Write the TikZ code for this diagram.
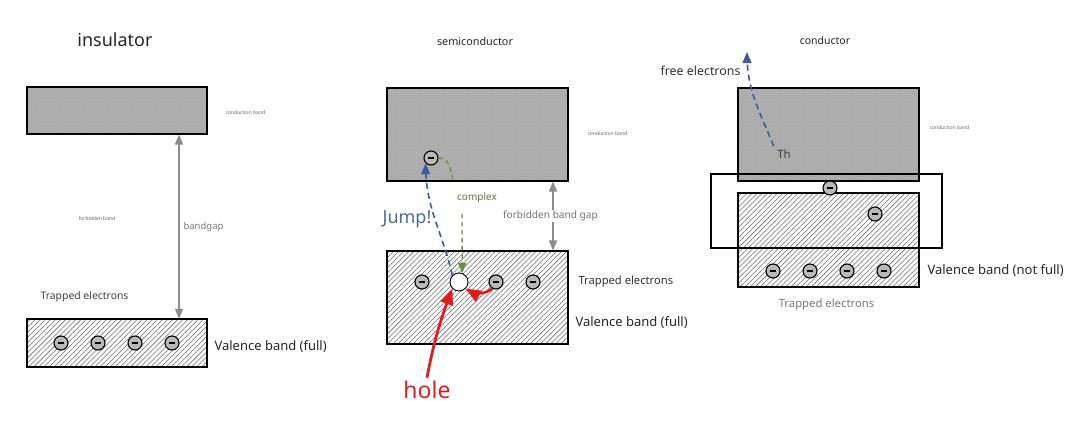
\documentclass[tikz,border=0pt]{standalone}
\usepackage{fontspec}
\setmainfont{Noto Sans}
\usetikzlibrary{arrows,patterns,patterns.meta}

\definecolor{bandgray}{RGB}{176,176,176}
\definecolor{jumpblue}{RGB}{62,92,152}
\definecolor{jumptext}{RGB}{84,104,150}
\definecolor{cplxgreen}{RGB}{106,146,72}
\definecolor{holered}{RGB}{226,28,26}
\newcommand{\fsz}[1]{\fontsize{#1}{#1}\selectfont}

\begin{document}
\begin{tikzpicture}[x=1pt,y=1pt,
    cband/.style={draw,line width=1.2pt,preaction={fill=bandgray},pattern=crosshatch dots,pattern color=gray!75,inner sep=0pt},
    vband/.style={draw,line width=1.2pt,preaction={fill=white},pattern={Lines[angle=45,distance=3.6pt,line width=0.55pt]},pattern color=gray!85!black,inner sep=0pt},
    elec/.style={circle,draw,line width=1.1pt,fill=gray!55,minimum size=14pt,inner sep=0pt,
        path picture={\draw[line width=1.8pt] ([xshift=-3.3pt]path picture bounding box.center) -- ([xshift=3.3pt]path picture bounding box.center);}},
    gaparrow/.style={<->,>=triangle 45,gray!90,line width=1.3pt},
    bluedash/.style={->,>=triangle 45,jumpblue,dash pattern=on 6pt off 4pt,line width=1.6pt},
    greendash/.style={cplxgreen,dash pattern=on 4.5pt off 3.5pt,line width=1.3pt},
    tiny/.style={font=\fsz{5},text=gray!80!black},
  ]
    \useasboundingbox (0,0) rectangle (1080,421);

    % insulator
    \node[font=\fsz{18},text=black!85] (tins) at (115,381) {insulator};
    \node[cband,minimum width=180pt,minimum height=47pt] (icb) at (117,310.5) {};
    \node[vband,minimum width=180pt,minimum height=48pt] (ivb) at (117,78) {};
    \coordinate (igap) at (179,200);
    \draw[gaparrow] (icb.south -| igap) -- (ivb.north -| igap);
    \node[anchor=west,font=\fsz{9.5},text=gray!95!black] (ibg) at (180,194) {bandgap};
    \node[tiny,anchor=west] (icbl) at (222,308) {conduction band};
    \node[tiny] (ifb) at (97,202) {forbidden band};
    \node[font=\fsz{10.4},text=black!75] (itr) at (84.5,124) {Trapped electrons};
    \node[anchor=west,font=\fsz{13},text=black!85] (ivbl) at (211,74) {Valence band (full)};
    \foreach \x [count=\i] in {61,98,135,172}
        \node[elec] (ie\i) at (\x,78) {};

    % semiconductor
    \node[font=\fsz{10.8},text=black!85] (tsemi) at (475,380) {semiconductor};
    \node[cband,minimum width=181pt,minimum height=93pt] (scb) at (477.5,286.5) {};
    \node[vband,minimum width=181pt,minimum height=93pt] (svb) at (477.5,123.5) {};
    \node[tiny,anchor=west] (scbl) at (584,287) {conduction band};
    \coordinate (sgap) at (553,200);
    \draw[gaparrow] (scb.south -| sgap) -- (svb.north -| sgap);
    \node[fill=white,inner sep=0.5pt,font=\fsz{10.1},text=gray!90!black] (sfb) at (550.5,205) {forbidden band gap};
    \node[elec] (ecb) at (431,263) {};
    \node[elec] (se1) at (422,139) {};
    \node[circle,draw,line width=0.9pt,fill=white,minimum size=18pt,inner sep=0pt] (hole) at (459,139) {};
    \node[elec] (se2) at (496,139) {};
    \node[elec] (se3) at (533,139) {};
    \draw[bluedash] (hole.north west) to[out=103,in=-90] (ecb.south west);
    \node[font=\fsz{18},text=jumptext] (jump) at (407,202) {Jump!};
    \coordinate (cxa) at (453,240);
    \coordinate (cxb) at (462,207);
    \draw[greendash] (ecb.east) to[out=5,in=100] (cxa);
    \node[font=\fsz{10},text=cplxgreen!85!black] (cplx) at (477,223) {complex};
    \draw[greendash,->,>=triangle 45] (cxb) -- (hole.70);
    \draw[->,>=triangle 45,holered,line width=2.6pt] (se2.240) to[out=-140,in=-30] (hole.-45);
    \node[font=\fsz{23},text=holered] (hlab) at (427,31) {hole};
    \draw[->,>=triangle 45,holered,line width=2.8pt] (hlab.north) to[bend left=5] (hole.south west);
    \node[anchor=west,font=\fsz{11.2},text=black!80] (str) at (575,139) {Trapped electrons};
    \node[anchor=west,font=\fsz{13},text=black!85] (svbl) at (572,98) {Valence band (full)};

    % conductor
    \node[font=\fsz{10.5},text=black!85] (tcond) at (825,380) {conductor};
    \node[cband,minimum width=181pt,minimum height=93pt] (ccb) at (828.5,286.5) {};
    \node[vband,minimum width=181pt,minimum height=94pt] (cvb) at (828.5,181) {};
    \node[draw,line width=1.5pt,minimum width=231pt,minimum height=74pt,inner sep=0pt] (cbox) at (826.5,210) {};
    \node[tiny,anchor=west] (ccbl) at (926,293) {conduction band};
    \node[elec] (ce0) at (830,233) {};
    \node[elec] (ce1) at (875,207) {};
    \foreach \x [count=\i from 2] in {773,810,847,884}
        \node[elec] (ce\i) at (\x,150) {};
    \node[font=\fsz{11.5},text=black!75] (th) at (784,267) {Th};
    \coordinate (fe) at (747,369);
    \draw[bluedash] (th.north west) to[out=112,in=-90] (fe);
    \node[anchor=east,font=\fsz{12.4},text=black!80] (fel) at (744,350) {free electrons};
    \node[anchor=west,font=\fsz{13},text=black!85] (cvbl) at (924,150) {Valence band (not full)};
    \node[font=\fsz{11.3},text=gray!95!black] (ctr) at (826.5,116) {Trapped electrons};
\end{tikzpicture}
\end{document}
